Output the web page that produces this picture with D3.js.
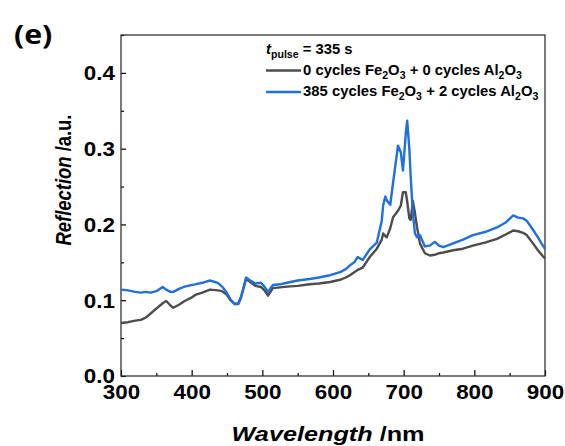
<!DOCTYPE html>
<html>
<head>
<meta charset="utf-8">
<script src="https://cdn.jsdelivr.net/npm/d3@7"></script>
<style>
  body { margin: 0; background: #fff; }
  text { font-family: "Liberation Sans", Arial, sans-serif; font-weight: bold; fill: #000; }
</style>
</head>
<body>
<div id="chart"></div>
<script>
// wavelengths (nm) shared by both spectra
const wavelength = [300, 310, 320, 328, 335, 342, 350, 359, 364, 370, 374, 382, 390, 399, 405, 415, 426, 437, 443, 449,
  455, 461, 466, 470, 477, 483, 490, 498, 503, 508, 515, 525, 535, 550, 567, 580, 596, 610, 618, 624,
  630, 635, 642, 652, 662, 669, 671, 674, 676, 681, 685, 692, 696, 699, 703, 705, 708, 710, 713, 716,
  719, 723, 730, 737, 744, 750, 756, 770, 784, 798, 815, 832, 845, 855, 862, 869, 874, 883, 890, 897, 900];

// 0 cycles Fe2O3 + 0 cycles Al2O3
const reflBare = [0.070, 0.071, 0.073, 0.074, 0.077, 0.0825, 0.089, 0.096, 0.099, 0.093, 0.090, 0.094, 0.099, 0.103, 0.107, 0.110, 0.114, 0.113, 0.112, 0.108,
  0.100, 0.095, 0.095, 0.104, 0.128, 0.124, 0.119, 0.1175, 0.113, 0.106, 0.116, 0.117, 0.118, 0.119, 0.121, 0.122, 0.124, 0.127, 0.130, 0.133,
  0.137, 0.140, 0.143, 0.157, 0.168, 0.180, 0.188, 0.185, 0.183, 0.195, 0.2096, 0.218, 0.225, 0.2425, 0.2425, 0.230, 0.208, 0.206, 0.231, 0.215,
  0.196, 0.175, 0.162, 0.159, 0.160, 0.162, 0.163, 0.166, 0.168, 0.172, 0.176, 0.181, 0.187, 0.192, 0.191, 0.189, 0.186, 0.175, 0.166, 0.158, 0.155];

// 385 cycles Fe2O3 + 2 cycles Al2O3
const reflCoated = [0.114, 0.113, 0.111, 0.110, 0.111, 0.110, 0.112, 0.1175, 0.114, 0.111, 0.111, 0.115, 0.118, 0.120, 0.121, 0.123, 0.126, 0.123, 0.118, 0.111,
  0.101, 0.095, 0.096, 0.105, 0.130, 0.126, 0.122, 0.123, 0.118, 0.111, 0.120, 0.121, 0.123, 0.126, 0.128, 0.130, 0.133, 0.137, 0.141, 0.146,
  0.150, 0.157, 0.153, 0.167, 0.176, 0.205, 0.225, 0.237, 0.232, 0.226, 0.255, 0.304, 0.295, 0.271, 0.320, 0.337, 0.300, 0.262, 0.215, 0.188,
  0.183, 0.186, 0.171, 0.172, 0.177, 0.172, 0.170, 0.175, 0.180, 0.186, 0.190, 0.196, 0.203, 0.212, 0.209, 0.208, 0.205, 0.193, 0.183, 0.172, 0.168];

const xTicks = [300, 400, 500, 600, 700, 800, 900];
const yTicks = [0.0, 0.1, 0.2, 0.3, 0.4];

const series = [
  {name: "bare", values: reflBare, color: "#4d4d4d", n1: "0", n2: "0"},
  {name: "coated", values: reflCoated, color: "#1f6fe0", n1: "385", n2: "2"}
];

const margin = ({top: 35, right: 20, bottom: 70, left: 121});
const width = 565 - margin.left - margin.right;
const height = 446 - margin.top - margin.bottom;
const stretch = 1.12; // the figure's lettering is a little wide

const root = d3.select("#chart").append("svg")
    .attr("width", 565)
    .attr("height", 446);

const svg = root.append("g")
    .attr("transform", `translate(${margin.left},${margin.top})`);

const xScale = d3.scaleLinear().domain([300, 900]).range([0, width]);
const yScale = d3.scaleLinear().domain([0, 0.45]).range([height, 0]);

// minor ticks
svg.append("g")
    .attr("transform", `translate(0,${height})`)
    .call(d3.axisTop(xScale).tickValues(d3.range(350, 900, 100)).tickSize(3).tickFormat(""))
    .call(g => g.select(".domain").remove());
svg.append("g")
    .call(d3.axisRight(yScale).tickValues([0.05, 0.15, 0.25, 0.35, 0.45]).tickSize(3).tickFormat(""))
    .call(g => g.select(".domain").remove());

// major ticks (inward) + labels
const xAxis = svg.append("g")
    .attr("transform", `translate(0,${height})`)
    .call(d3.axisTop(xScale).tickValues(xTicks).tickSize(6).tickFormat(d3.format("d")));
xAxis.select(".domain").remove();
xAxis.selectAll("text")
    .attr("y", 23)
    .attr("transform", `scale(${stretch},1)`)
    .style("font-size", "20px");

const yAxis = svg.append("g")
    .call(d3.axisRight(yScale).tickValues(yTicks).tickSize(5).tickFormat(d3.format(".1f")));
yAxis.select(".domain").remove();
yAxis.selectAll("text")
    .attr("x", -5.5)
    .attr("dy", "0.34em")
    .attr("text-anchor", "end")
    .attr("transform", `scale(${stretch},1)`)
    .style("font-size", "20px");

svg.selectAll(".tick line").attr("stroke", "#000").attr("stroke-width", 1.2);
svg.selectAll(".tick text").attr("fill", "#000");

// frame
svg.append("rect")
    .attr("width", width)
    .attr("height", height)
    .attr("fill", "none")
    .attr("stroke", "#333")
    .attr("stroke-width", 1.3);

// spectra
const line = d3.line()
    .x((d, i) => xScale(wavelength[i]))
    .y(d => yScale(d));

svg.selectAll(".spectrum")
    .data(series)
    .join("path")
    .attr("class", "spectrum")
    .attr("fill", "none")
    .attr("stroke", d => d.color)
    .attr("stroke-width", 2.4)
    .attr("stroke-linejoin", "round")
    .attr("d", d => line(d.values));

// legend
const legend = root.append("g")
    .attr("transform", "translate(266,0) scale(1.06,1)")
    .style("font-size", "14px");
const t0 = legend.append("text").attr("x", 0).attr("y", 54);
t0.append("tspan").style("font-style", "italic").text("t");
t0.append("tspan").attr("dy", 4).style("font-size", "10px").text("pulse");
t0.append("tspan").attr("dy", -4).text(" = 335 s");

function chemLine(sel, parts) {
  parts.forEach(p => {
    if (p.sub) sel.append("tspan").attr("dy", 4).style("font-size", "10px").text(p.t);
    else sel.append("tspan").attr("dy", p.after ? -4 : 0).text(p.t);
  });
}

series.forEach((s, i) => {
  const y = 75 + i * 21.5;
  legend.append("line")
      .attr("x1", 0).attr("x2", 33)
      .attr("y1", y - 4.5).attr("y2", y - 4.5)
      .attr("stroke", s.color).attr("stroke-width", 2.4);
  const t = legend.append("text").attr("x", 35).attr("y", y);
  chemLine(t, [
    {t: `${s.n1} cycles Fe`}, {t: "2", sub: true}, {t: "O", after: true}, {t: "3", sub: true},
    {t: ` + ${s.n2} cycles Al`, after: true}, {t: "2", sub: true}, {t: "O", after: true}, {t: "3", sub: true}
  ]);
});

// axis titles
const xt = root.append("text")
    .attr("x", margin.left + width / 2 - 5)
    .attr("y", 441)
    .attr("text-anchor", "middle")
    .style("font-size", "21px")
    .attr("textLength", 193)
    .attr("lengthAdjust", "spacingAndGlyphs");
xt.append("tspan").style("font-style", "italic").text("Wavelength");
xt.append("tspan").text(" /nm");

const yt = root.append("text")
    .attr("transform", `translate(71,180) scale(${stretch},1) rotate(-90)`)
    .attr("text-anchor", "middle")
    .style("font-size", "19px")
    .attr("textLength", 131)
    .attr("lengthAdjust", "spacingAndGlyphs");
yt.append("tspan").style("font-style", "italic").text("Reflection");
yt.append("tspan").text(" /a.u.");

// panel label
root.append("text")
    .attr("transform", "translate(14,44) scale(1.12,1)")
    .style("font-family", "'Open Sans', sans-serif")
    .style("font-size", "27px")
    .text("(e)");
</script>
</body>
</html>
